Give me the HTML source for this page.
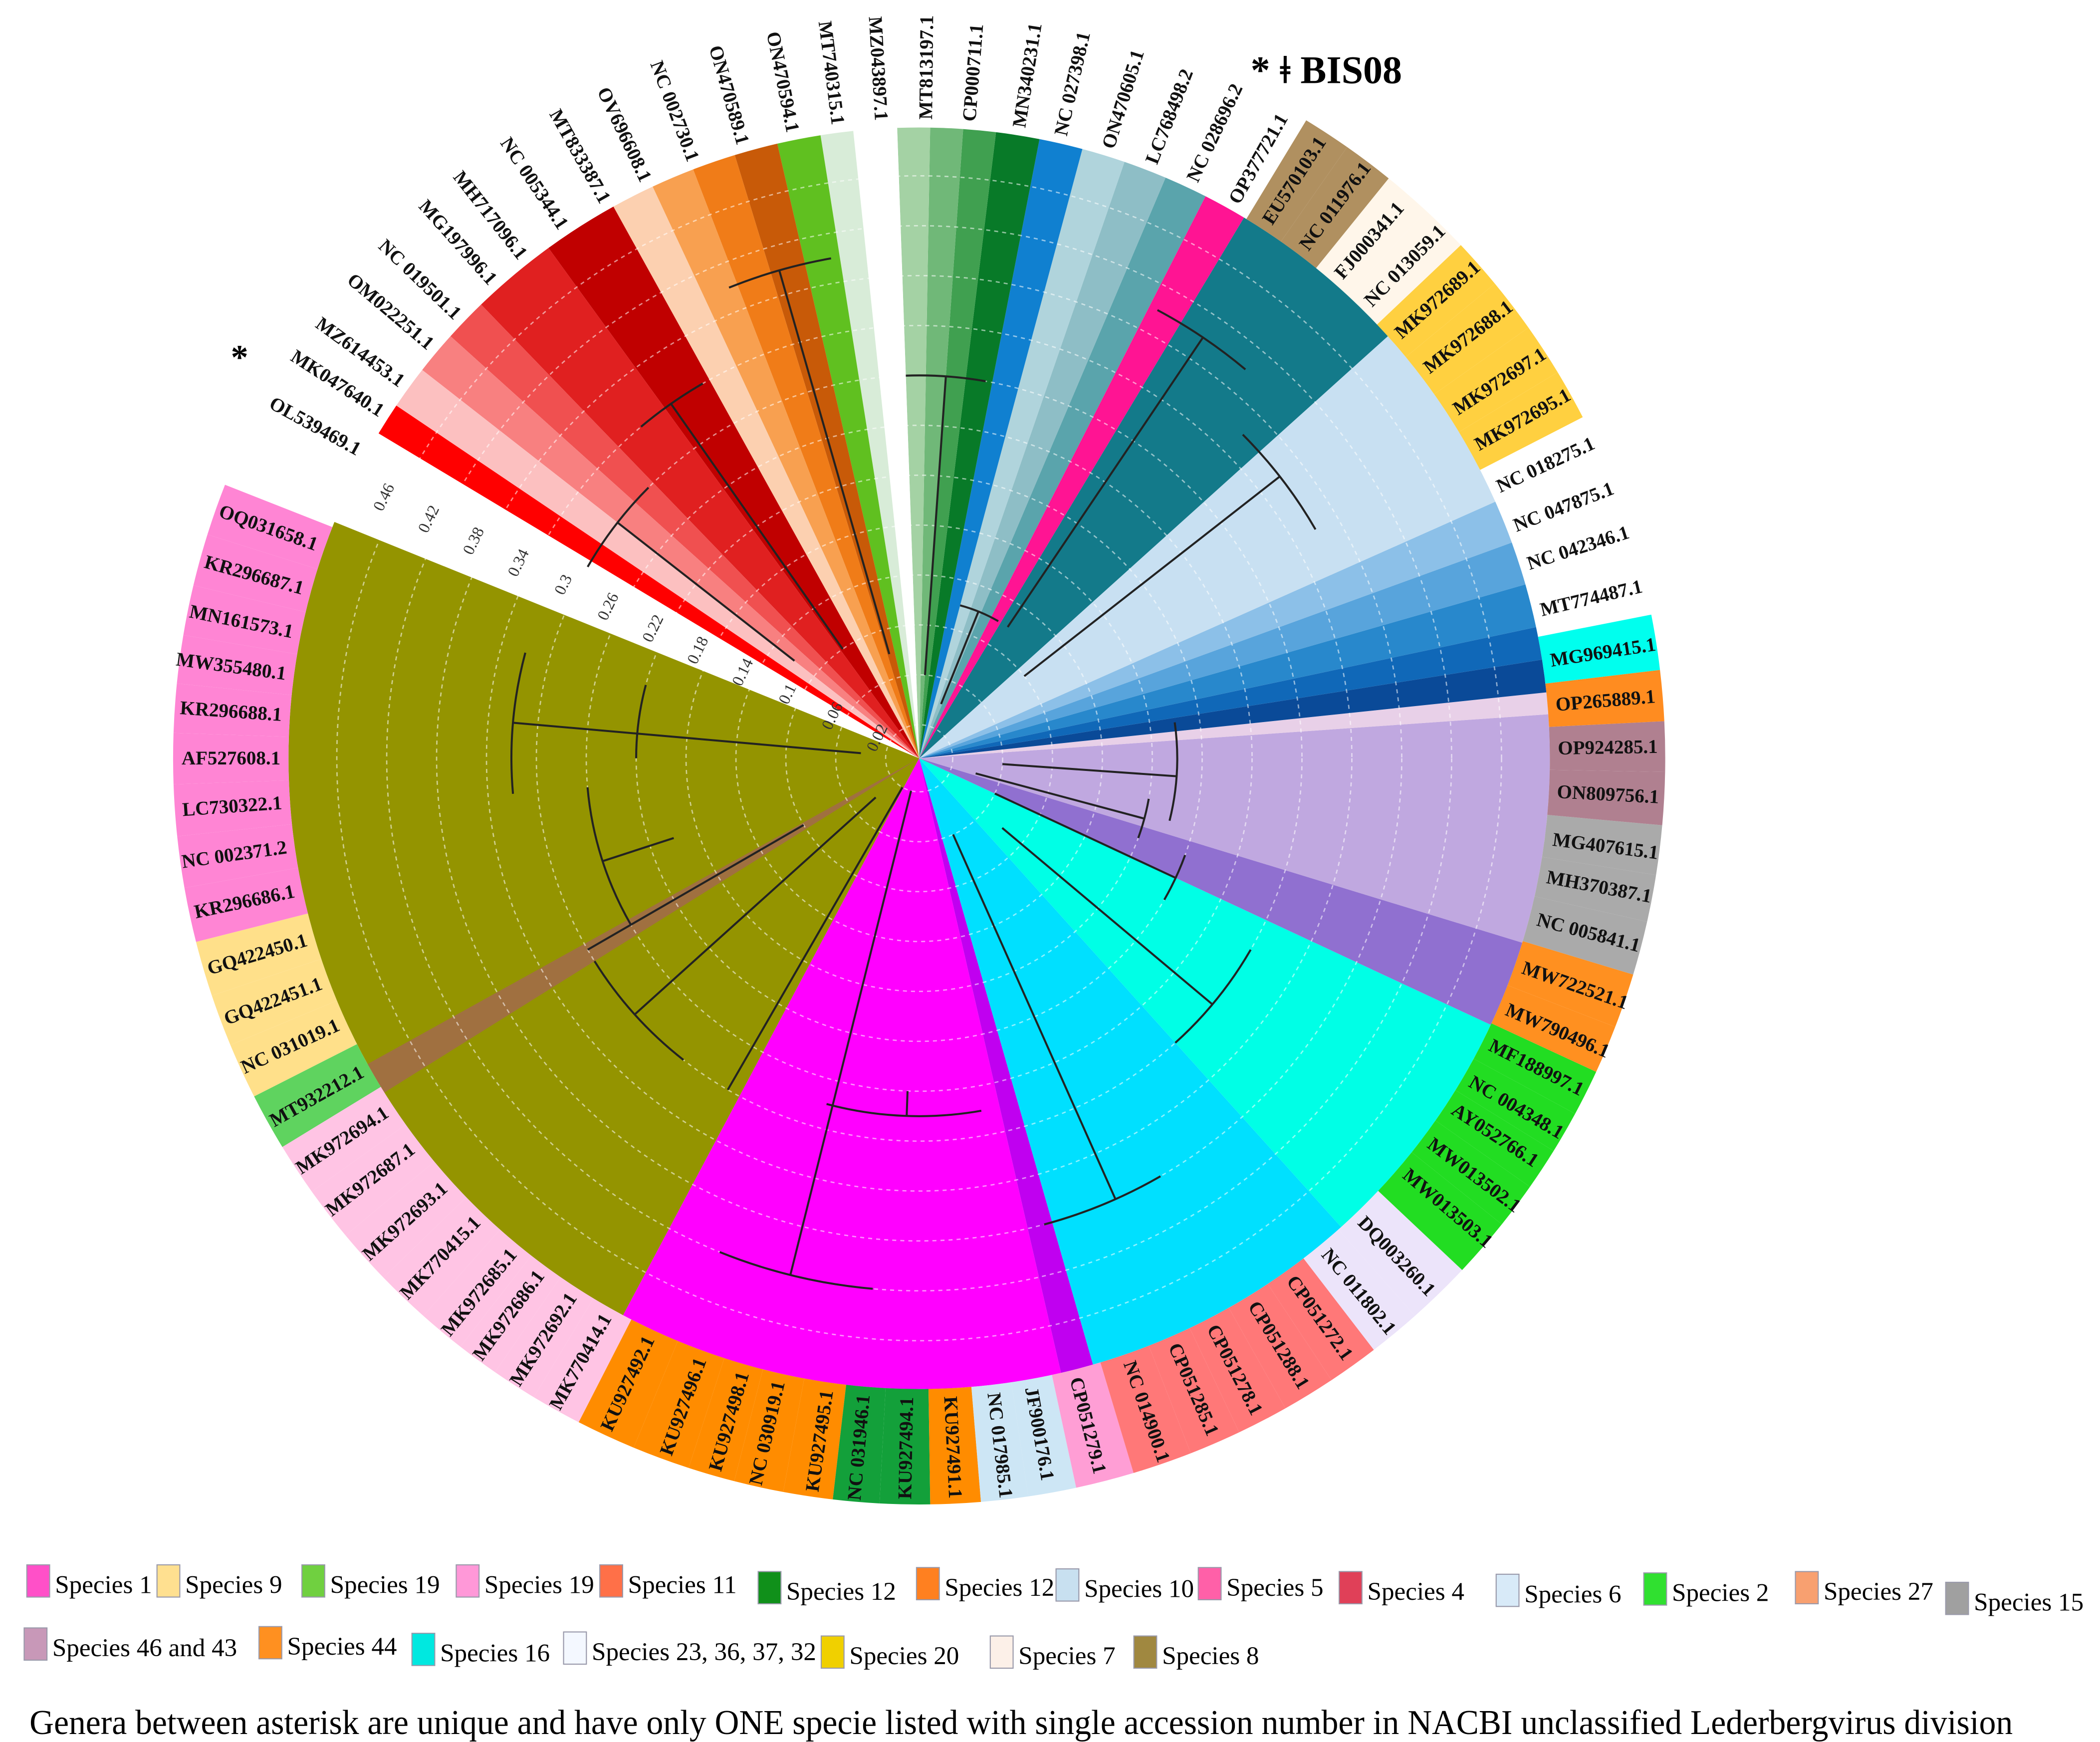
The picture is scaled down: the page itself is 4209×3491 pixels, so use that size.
<!DOCTYPE html>
<html><head><meta charset="utf-8">
<style>html,body{margin:0;padding:0;background:#fff}svg{display:block}</style>
</head><body>
<svg id="chart" xmlns="http://www.w3.org/2000/svg" width="4209" height="3491" viewBox="0 0 1565 1298" preserveAspectRatio="none" font-family="'Liberation Serif', serif">
<g id="sectors"></g>
<g id="rings"></g>
<g id="boxes"></g>
<g id="tree"></g>
<g id="ticks"></g>
<g id="labels"></g>
<text x="932" y="62" font-size="29" font-weight="bold">* ǂ BIS08</text>
<text x="172" y="275" font-size="26" font-weight="bold">*</text>
<g id="legend"></g>
<g id="legendtext"></g>
<text x="22" y="1292" font-size="26" textLength="1478" lengthAdjust="spacingAndGlyphs">Genera between asterisk are unique and have only ONE specie listed with single accession number in NACBI unclassified Lederbergvirus division</text>
</svg>
<script>
const CX=685, CY=565, RIN=470, ROUT=556;
const sectorStart=[118,148,77,74,48,25,17,-4,-6,-9,-12,-16,-20,-24,-42,-59,-63,-67,-71,-75,-79,-83,-86,-89,-92,-96,-99,-103,-107,-111,-115,-119,-126,-134,-138,-142,-146,-149];
const sectorEnd=[202,151,118,77,74,48,25,17,-4,-6,-9,-12,-16,-20,-24,-42,-59,-63,-67,-71,-75,-79,-83,-86,-89,-92,-96,-99,-103,-107,-111,-115,-119,-126,-134,-138,-142,-146];
const sectorColor=["#949400","#a07040","#ff00ff","#c000f0","#00e0ff","#00ffe6","#9070d0","#c0a8e0","#e8d0e8","#0a4a98","#1068b8","#2888cc","#58a4dc","#8cc0e8","#c8e0f2","#137a8a","#ff1493","#5aa4ac","#8ebec6","#b0d4dc","#1080d0","#087a28","#40a050","#70b878","#a4d2a4","#ffffff","#d8ecd8","#60c020","#c85a08","#f07c18","#f8a050","#fcd0b0","#c00000","#e02020","#f05050","#f88080","#fcc0c0","#ff0000"];
const leafNames=["OQ031658.1","KR296687.1","MN161573.1","MW355480.1","KR296688.1","AF527608.1","LC730322.1","NC 002371.2","KR296686.1","GQ422450.1","GQ422451.1","NC 031019.1","MT932212.1","MK972694.1","MK972687.1","MK972693.1","MK770415.1","MK972685.1","MK972686.1","MK972692.1","MK770414.1","KU927492.1","KU927496.1","KU927498.1","NC 030919.1","KU927495.1","NC 031946.1","KU927494.1","KU927491.1","NC 017985.1","JF900176.1","CP051279.1","NC 014900.1","CP051285.1","CP051278.1","CP051288.1","CP051272.1","NC 011802.1","DQ003260.1","MW013503.1","MW013502.1","AY052766.1","NC 004348.1","MF188997.1","MW790496.1","MW722521.1","NC 005841.1","MH370387.1","MG407615.1","ON809756.1","OP924285.1","OP265889.1","MG969415.1","MT774487.1","NC 042346.1","NC 047875.1","NC 018275.1","MK972695.1","MK972697.1","MK972688.1","MK972689.1","NC 013059.1","FJ000341.1","NC 011976.1","EU570103.1","OP377721.1","NC 028696.2","LC768498.2","ON470605.1","NC 027398.1","MN340231.1","CP000711.1","MT813197.1","MZ043897.1","MT740315.1","ON470594.1","ON470589.1","NC 002730.1","OV696608.1","MT833387.1","NC 005344.1","MH717096.1","MG197996.1","NC 019501.1","OM022251.1","MZ614453.1","MK047640.1","OL539469.1"];
const leafAngle=[199.5,195.4,191.4,187.6,183.9,180,176,172,168,163.5,159.4,155.4,150.7,146.5,142.5,138,133.8,129.5,126.4,122.9,119.3,115,110,106,102.7,98.3,95,91.1,87.2,83.3,79.9,75.8,70.8,66.5,62.7,58.5,54.4,50.5,46.2,40.4,36.9,33.2,30.3,26.6,23.1,19.1,14.6,10.7,7.3,3,-0.9,-4.8,-8.8,-13.4,-17.7,-21.3,-25.1,-29.3,-33,-37.5,-41.5,-45.4,-49,-53,-57,-60.5,-64.7,-68.7,-72.8,-77.2,-81,-85.5,-89.4,-93.4,-97.3,-101.4,-106,-110.7,-115.3,-119.4,-123.8,-128.3,-131.8,-136.2,-139.8,-144,-147.2,-151.2];
const P="#ff85d4",Y="#ffe08a",LP="#ffc4e4",O="#ff8c00",SA="#ff7878",G="#22dd22",GR="#aaaaaa",TY="#ffd040",TN="#b09060",W=null;
const leafBox=[P,P,P,P,P,P,P,P,P,Y,Y,Y,"#5fd35f",LP,LP,LP,LP,LP,LP,LP,LP,O,O,O,O,O,"#13a03a","#13a03a",O,"#cde6f5","#cde6f5","#ff9ed5",SA,SA,SA,SA,SA,"#ece4fa","#ece4fa",G,G,G,G,G,"#ff9020","#ff9020",GR,GR,GR,"#b08090","#b08090","#ff8c20","#00ffee",W,W,W,W,TY,TY,TY,TY,"#fff6ea","#fff6ea",TN,TN,W,W,W,W,W,W,W,W,W,W,W,W,W,W,W,W,W,W,W,W,W,W,W];
const tickLabels=["0.02","0.06","0.1","0.14","0.18","0.22","0.26","0.3","0.34","0.38","0.42","0.46"];
const tickValues=[0.02,0.06,0.1,0.14,0.18,0.22,0.26,0.3,0.34,0.38,0.42,0.46];
const arcA1=[175,128,180,150,95,80,60,30,20,-8,-30,-50,-80,-100,-120,-135,-60,10];
const arcA2=[195,148,195,175,112,105,75,48,30,14,-45,-62,-92,-112,-130,-150,-75,20];
const arcD=[0.32,0.30,0.22,0.26,0.42,0.28,0.38,0.30,0.22,0.20,0.36,0.40,0.30,0.40,0.34,0.30,0.12,0.18];
const radAngle=[185,138,162,104,92,66,40,25,4,-38,-56,-86,-106,-125,-142,-68,15,120,150];
const radD1=[0.04,0.04,0.2,0.02,0.26,0.06,0.08,0.06,0.06,0.1,0.12,0.06,0.08,0.1,0.12,0.04,0.04,0.02,0.1];
const radD2=[0.32,0.30,0.26,0.42,0.28,0.38,0.30,0.22,0.20,0.36,0.40,0.30,0.40,0.34,0.30,0.12,0.18,0.30,0.30];
const legNames=["Species 1","Species 9","Species 19","Species 19","Species 11","Species 12","Species 12","Species 10","Species 5","Species 4","Species 6","Species 2","Species 27","Species 15","Species 46 and 43","Species 44","Species 16","Species 23, 36, 37, 32","Species 20","Species 7","Species 8"];
const legColors=["#ff50c8","#ffe090","#70d040","#ff98d8","#ff7048","#10901a","#ff8020","#c8e0f0","#ff60a8","#e04058","#d8eaf8","#30e030","#f8a070","#a0a0a0","#c898b8","#ff9020","#00e8e0","#f4f8ff","#f0d000","#fcf0e8","#a08840"];
const legX=[20,117,225,340,447,565,683,787,893,998,1115,1225,1338,1450,18,193,307,420,612,738,845];
const legY=[1190,1190,1190,1190,1190,1195,1192,1193,1192,1195,1197,1196,1195,1203,1237,1236,1241,1240,1243,1243,1243];

const NS="http://www.w3.org/2000/svg";
const rScale=v=>25+(v-0.02)/0.44*409;
const rad=a=>a*Math.PI/180;
const pt=(a,r)=>[CX+r*Math.cos(rad(a)),CY+r*Math.sin(rad(a))];
function mk(tag,parent,attrs){const e=document.createElementNS(NS,tag);for(const k in attrs)e.setAttribute(k,attrs[k]);document.getElementById(parent).appendChild(e);return e;}
function wedge(a1,a2,r1,r2){const lo=Math.min(a1,a2),hi=Math.max(a1,a2);const L=(hi-lo)>180?1:0;
 const p1=pt(lo,r2),p2=pt(hi,r2),p3=pt(hi,r1),p4=pt(lo,r1);
 return `M${p1} A${r2},${r2} 0 ${L} 1 ${p2} L${p3} A${r1},${r1} 0 ${L} 0 ${p4}Z`;}
function arc(a1,a2,r){const p1=pt(a1,r),p2=pt(a2,r);return `M${p1} A${r},${r} 0 ${Math.abs(a2-a1)>180?1:0} ${a2>a1?1:0} ${p2}`;}

sectorStart.forEach((s,i)=>{const e=mk('path','sectors',{d:wedge(s,sectorEnd[i],0,RIN),fill:sectorColor[i]});

});
tickValues.forEach((v,i)=>{const e=mk('circle','rings',{cx:CX,cy:CY,r:rScale(v),fill:'none',stroke:'#fff',"stroke-opacity":0.55,"stroke-width":1,"stroke-dasharray":"3 3"});


const ta=-154,p=pt(ta,rScale(v)+6);
const t=mk('text','ticks',{x:p[0],y:p[1],"font-size":12,fill:'#333',transform:`rotate(${ta+90} ${p[0]} ${p[1]})`,"text-anchor":"middle"});
t.textContent=tickLabels[i];

});
leafNames.forEach((n,i)=>{const a=leafAngle[i];
 if(leafBox[i]){const prev=i>0?leafAngle[i-1]:a+4,next=i<leafNames.length-1?leafAngle[i+1]:a-4;
  const a1=(a+prev)/2,a2=(a+next)/2;
  const b=mk('path','boxes',{d:wedge(a1,a2,RIN,ROUT),fill:leafBox[i]});
  
  }
 const left=(a>90&&a<270)||a<-90;const p=pt(a,RIN+6);
 const t=mk('text','labels',{x:p[0],y:p[1],"font-size":14.5,"font-weight":"bold",fill:'#111',"dominant-baseline":"central","text-anchor":left?"end":"start",transform:`rotate(${left?a+180:a} ${p[0]} ${p[1]})`});
 t.textContent=n;
 
 });
arcA1.forEach((a,i)=>{const e=mk('path','tree',{d:arc(a,arcA2[i],rScale(arcD[i])),fill:'none',stroke:'#222',"stroke-width":1.5});

});
radAngle.forEach((a,i)=>{const p1=pt(a,rScale(radD1[i])),p2=pt(a,rScale(radD2[i]));
const e=mk('line','tree',{x1:p1[0],y1:p1[1],x2:p2[0],y2:p2[1],stroke:'#222',"stroke-width":1.5});

});
legNames.forEach((n,i)=>{const x=legX[i],y=legY[i];
 const r=mk('rect','legend',{x:x,y:y-24,width:17,height:24,fill:legColors[i],stroke:'#99a',"stroke-width":0.8});
 
 
 const t=mk('text','legendtext',{x:x+21,y:y-3,"font-size":19,"font-family":"'Liberation Serif', serif"});
 t.textContent=n;
 
 });
</script>
</body></html>
